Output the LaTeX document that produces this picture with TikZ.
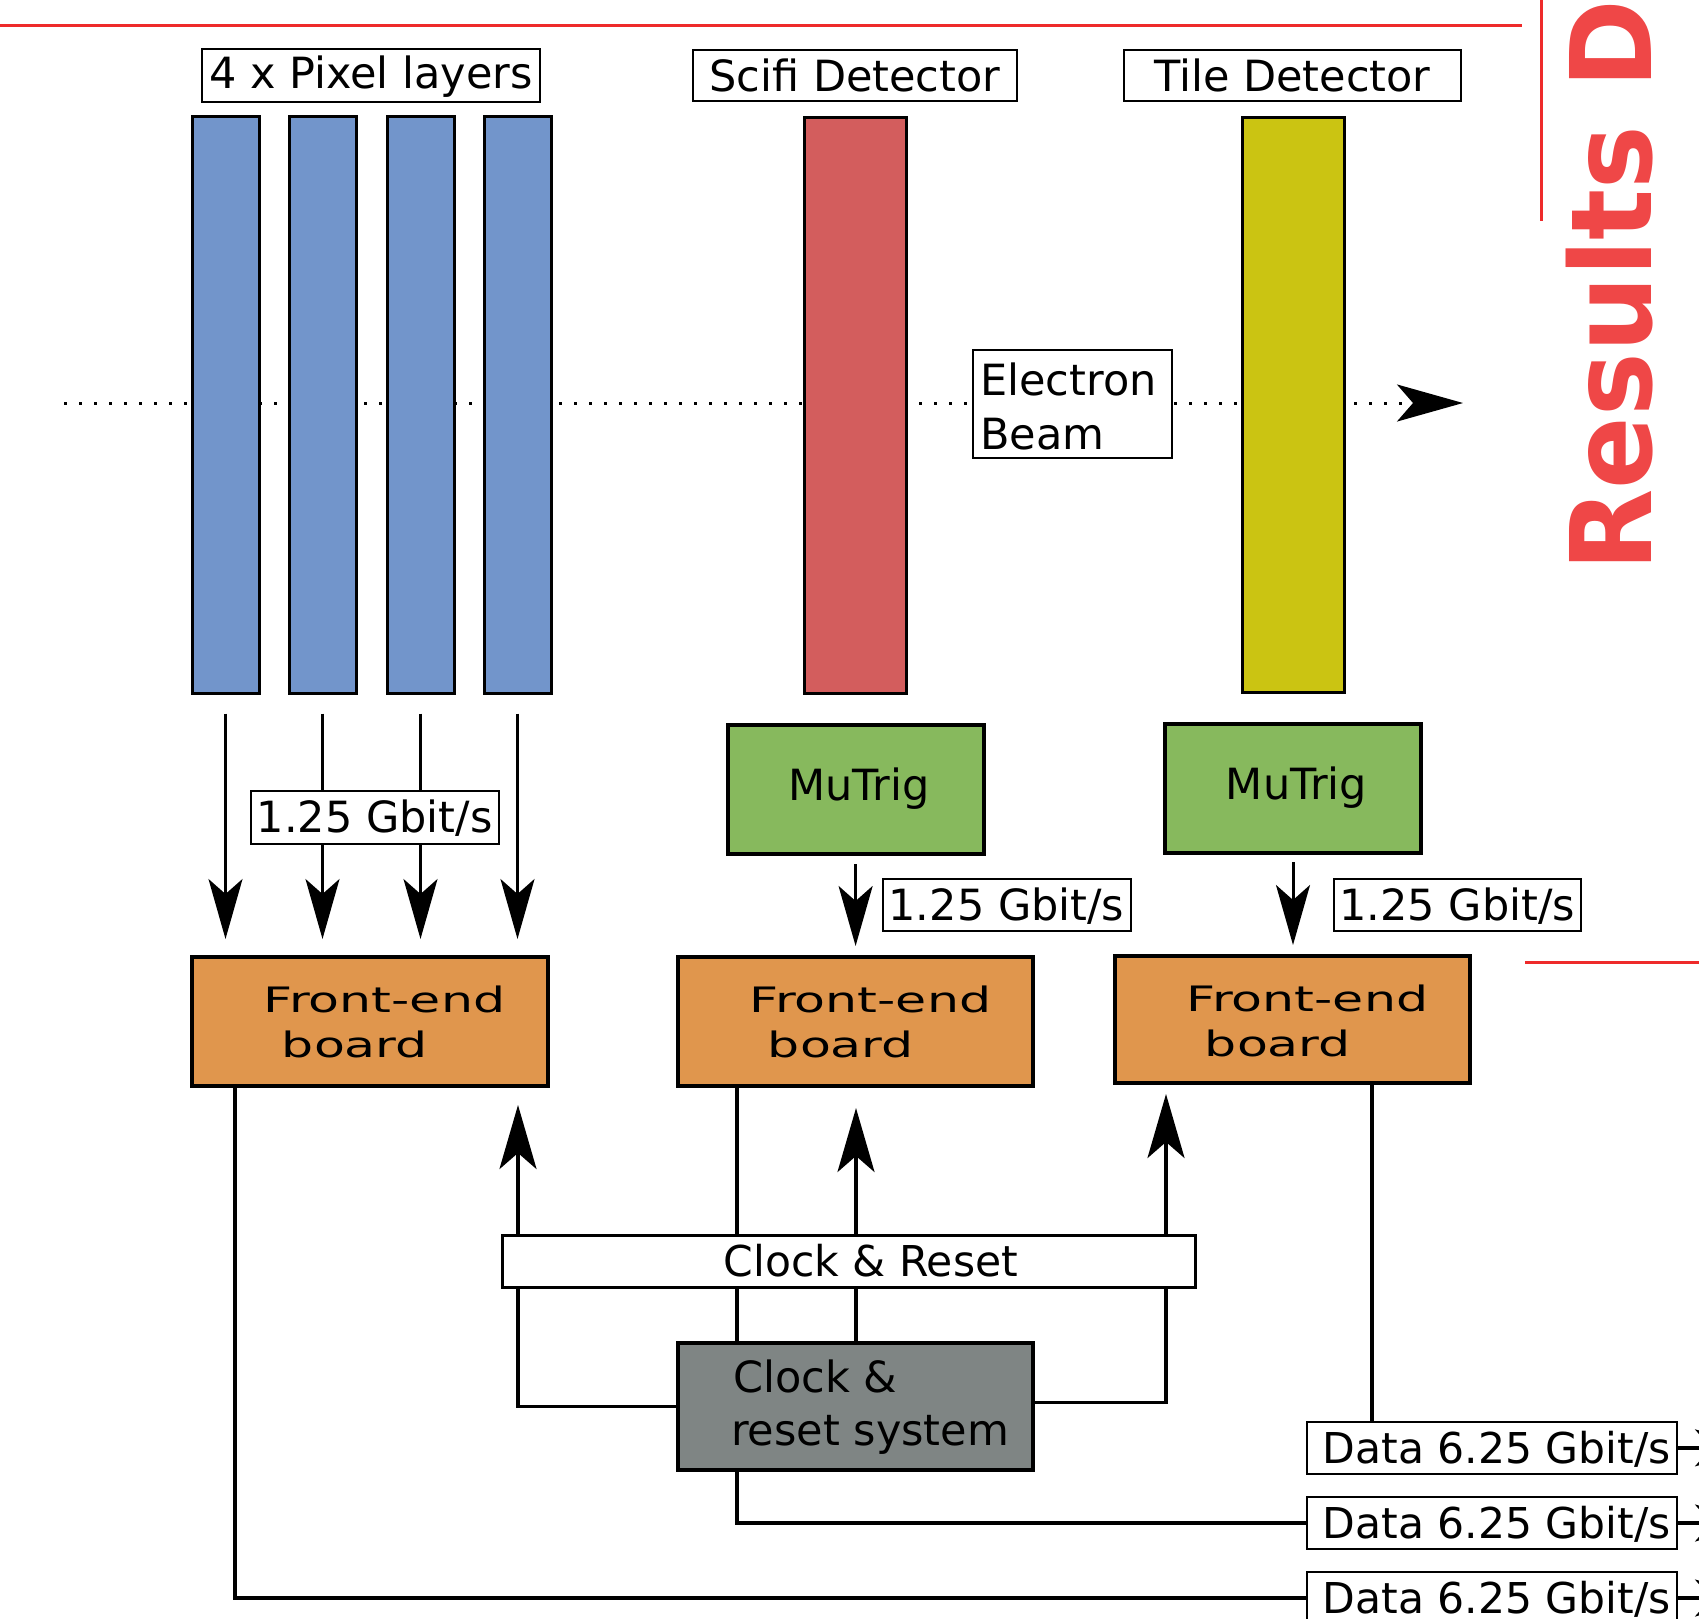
\documentclass[tikz,border=0pt]{standalone}
\usepackage{fontspec}
\setmainfont{DejaVu Sans}
\usepackage{graphicx}
\usetikzlibrary{arrows.meta,backgrounds,calc}
\definecolor{pixblue}{HTML}{7295CB}
\definecolor{scired}{HTML}{D35D5D}
\definecolor{tileyel}{HTML}{CBC412}
\definecolor{mugreen}{HTML}{87B95D}
\definecolor{feorange}{HTML}{E0964D}
\definecolor{ckgray}{HTML}{7F8584}
\definecolor{linered}{HTML}{EE2A2A}
\definecolor{resred}{HTML}{EF4747}
\begin{document}
\begin{tikzpicture}[x=1pt,y=-1pt,
  conn/.style={line width=3.4pt},
  darrow/.style={line width=2.4pt,-{Stealth[length=60pt,width=34pt,inset=15pt]}},
  marrow/.style={line width=3pt,-{Stealth[length=60pt,width=34pt,inset=15pt]}},
  uarrow/.style={conn,-{Stealth[length=64pt,width=37pt,inset=16pt]}},
  pixbar/.style={draw,line width=3pt,minimum width=67pt,minimum height=577pt,inner sep=0pt},
  lbl/.style={draw,fill=white,line width=2pt,inner sep=0pt,font=\fontsize{43}{50}\selectfont,text height=31pt,text depth=0pt},
  boardbox/.style={draw,line width=4pt,inner sep=0pt},
  txt/.style={inner sep=0pt,anchor=base west,font=\fontsize{43}{50}\selectfont},
  fetxt/.style={inner sep=0pt,anchor=base west,font=\fontsize{35}{40}\selectfont},
  redline/.style={draw=linered,line width=3pt},
]
\useasboundingbox (0,0) rectangle (1699,1618);
\clip (0,0) rectangle (1699,1618);

% helper coordinates
\coordinate (b0) at (64,403);
\coordinate (b1) at (1463,403);
\coordinate (c235) at (235,0);
\coordinate (c518) at (518,0);
\coordinate (c737) at (737,0);
\coordinate (c856) at (856,0);
\coordinate (c1166) at (1166,0);
\coordinate (c1372) at (1372,0);
\coordinate (cout) at (1759,0);

% red decorations
\draw[redline] (0,25) -- (1522,25);
\draw[redline] (1541,0) -- (1541,221);
\draw[redline] (1525,962) -- (1699,962);
\node[rotate=90,anchor=base west,inner sep=0pt,text=resred,font=\fontsize{112.5}{115}\selectfont\bfseries] (res) at (1651,571.5) {\scalebox{0.95}[1]{Results D}};

% detectors
\node[pixbar,fill=pixblue] (p1) at (225.5,404.5) {};
\node[pixbar,fill=pixblue] (p2) at (322.5,404.5) {};
\node[pixbar,fill=pixblue] (p3) at (420.5,404.5) {};
\node[pixbar,fill=pixblue] (p4) at (517.5,404.5) {};
\node[pixbar,fill=scired,minimum width=102pt,minimum height=576pt] (sci) at (855,405) {};
\node[pixbar,fill=tileyel,minimum width=102pt,minimum height=575pt] (tile) at (1293,404.5) {};

% top labels
\node[lbl,minimum width=338pt,minimum height=53pt,text height=31pt,text depth=6pt] (pixlab) at (371,75.5) {4 x Pixel layers};
\node[lbl,minimum width=324pt,minimum height=51pt] (scilab) at (855,75.5) {Scifi Detector};
\node[lbl,minimum width=337pt,minimum height=51pt] (tilelab) at (1292.5,75.5) {Tile Detector};

% beam label
\node[lbl,minimum width=199pt,minimum height=108pt] (beam) at (1072.5,404) {};
\node[txt] (beamt1) at (980,395.5) {Electron};
\node[txt] (beamt2) at (980,449.5) {Beam};

% MuTrig
\node[boardbox,fill=mugreen,minimum width=256pt,minimum height=129pt,font=\fontsize{43}{50}\selectfont,text height=31pt,text depth=10pt] (mt1) at (855.6,789.5) {\hspace*{7pt}MuTrig};
\node[boardbox,fill=mugreen,minimum width=256pt,minimum height=129pt,font=\fontsize{43}{50}\selectfont,text height=31pt,text depth=10pt] (mt2) at (1293,788.5) {\hspace*{7pt}MuTrig};

% rate labels
\node[lbl,minimum width=248pt,minimum height=53pt] (r1) at (374.7,817.3) {1.25 Gbit/s};
\node[lbl,minimum width=248pt,minimum height=52pt] (r2) at (1006.5,905) {1.25 Gbit/s};
\node[lbl,minimum width=247pt,minimum height=52pt] (r3) at (1457.4,905) {1.25 Gbit/s};

% front-end boards
\node[boardbox,fill=feorange,minimum width=356pt,minimum height=129pt] (fe1) at (370,1021.5) {};
\node[boardbox,fill=feorange,minimum width=355pt,minimum height=129pt] (fe2) at (855.5,1021.5) {};
\node[boardbox,fill=feorange,minimum width=355pt,minimum height=127pt] (fe3) at (1292.5,1019.5) {};
\node[fetxt] (fe1a) at (263.5,1012) {\scalebox{1.445}[1]{Front-end}};
\node[fetxt] (fe1b) at (281.7,1057) {\scalebox{1.445}[1]{board}};
\node[fetxt] (fe2a) at (749.5,1012) {\scalebox{1.445}[1]{Front-end}};
\node[fetxt] (fe2b) at (767.7,1057) {\scalebox{1.445}[1]{board}};
\node[fetxt] (fe3a) at (1186.5,1011) {\scalebox{1.445}[1]{Front-end}};
\node[fetxt] (fe3b) at (1204.7,1056) {\scalebox{1.445}[1]{board}};

% clock & reset
\node[draw,fill=white,line width=3pt,minimum width=692.5pt,minimum height=52pt,inner sep=0pt] (cr) at (848.75,1261) {};
\node[txt,font=\fontsize{42.5}{50}\selectfont] (crt) at (723.5,1276) {Clock \& Reset};
\node[boardbox,fill=ckgray,minimum width=355pt,minimum height=127pt] (ck) at (855.5,1406.5) {};
\node[txt] (ckt1) at (733,1392) {Clock \&};
\node[txt] (ckt2) at (731,1445) {reset system};

% data boxes
\node[lbl,line width=2.2pt,minimum width=370pt,minimum height=52.3pt,font=\fontsize{42.5}{50}\selectfont] (d1) at (1491.7,1447.85) {\hspace*{10pt}Data 6.25 Gbit/s};
\node[lbl,line width=2.2pt,minimum width=370pt,minimum height=52.3pt,font=\fontsize{42.5}{50}\selectfont] (d2) at (1491.7,1523) {\hspace*{10pt}Data 6.25 Gbit/s};
\node[lbl,line width=2.2pt,minimum width=370pt,minimum height=52.3pt,font=\fontsize{42.5}{50}\selectfont] (d3) at (1491.7,1598) {\hspace*{10pt}Data 6.25 Gbit/s};

\begin{pgfonlayer}{background}
  % electron beam
  \draw[line width=3pt,dash pattern=on 3pt off 12pt,-{Stealth[length=66pt,width=37pt,inset=16pt]}] (b0) -- (b1);
  % pixel readout
  \foreach \p in {p1,p2,p3,p4}
    \draw[darrow,shorten <=19pt,shorten >=16pt] (\p.south) -- (fe1.north -| \p.south);
  \draw[marrow,shorten <=8pt,shorten >=9pt] (mt1.south) -- (fe2.north -| mt1.south);
  \draw[marrow,shorten <=7pt,shorten >=9pt] (mt2.south) -- (fe3.north -| mt2.south);
  % clock distribution
  \draw[uarrow,shorten >=17pt] (cr.north -| c518) -- (fe1.south -| c518);
  \draw[uarrow,shorten >=20pt] (cr.north -| c856) -- (fe2.south -| c856);
  \draw[uarrow,shorten >=9pt] (cr.north -| c1166) -- (fe3.south -| c1166);
  \draw[conn] (cr.south -| c518) |- (ck.west);
  \draw[conn] (cr.south -| c1166) |- ($(ck.east)+(0,-4)$);
  \draw[conn] (cr.south -| c856) -- (ck.north -| c856);
  \draw[conn] (fe2.south -| c737) -- (ck.north -| c737);
  % data links
  \draw[conn] (fe1.south -| c235) |- (d3.west);
  \draw[conn] (ck.south -| c737) |- (d2.west);
  \draw[conn] (fe3.south -| c1372) -- (d1.north -| c1372);
  \draw[uarrow] (d1.east) -- (d1.east -| cout);
  \draw[uarrow] (d2.east) -- (d2.east -| cout);
  \draw[uarrow] (d3.east) -- (d3.east -| cout);
\end{pgfonlayer}
\end{tikzpicture}
\end{document}
